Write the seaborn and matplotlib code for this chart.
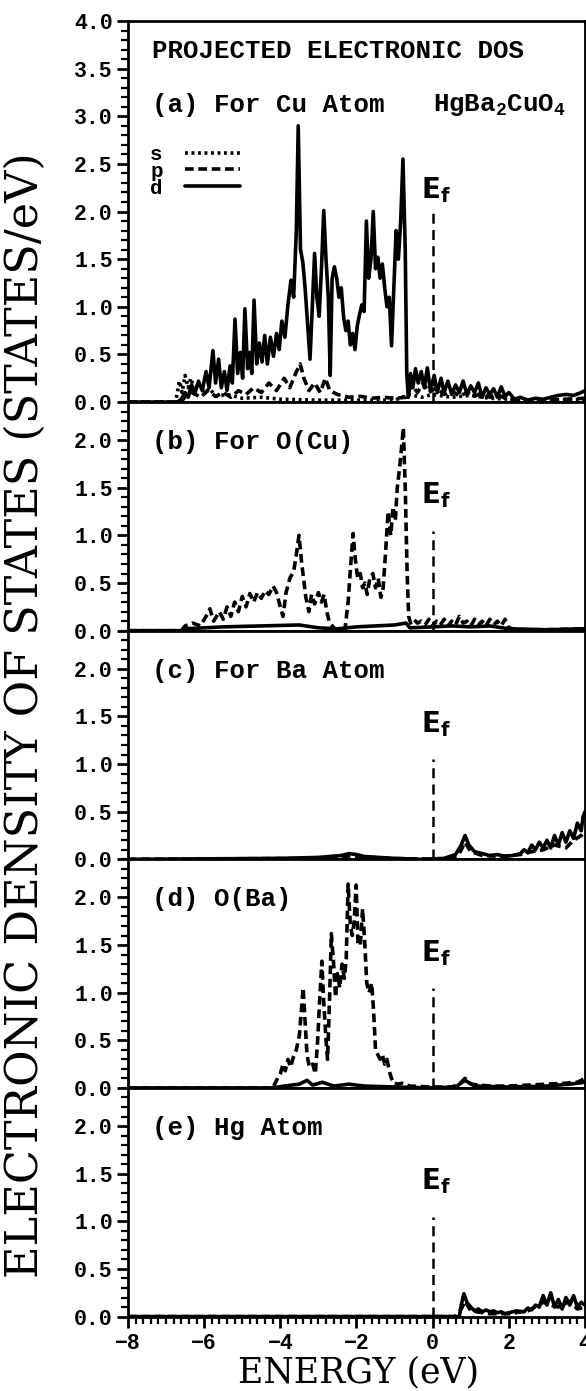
import matplotlib
matplotlib.use("Agg")
import matplotlib.pyplot as plt
import seaborn as sns
import pandas as pd
from matplotlib.ticker import MultipleLocator
from matplotlib.lines import Line2D

# projected DOS of HgBa2CuO4
# every curve is a list of (energy in eV, states/eV)

cu_d = [(-8.0, 0.0), (-6.7, 0.0), (-6.6, 0.03), (-6.5, 0.1), (-6.42, 0.05), (-6.33, 0.18),
        (-6.25, 0.08), (-6.15, 0.22), (-6.05, 0.12), (-5.95, 0.32), (-5.87, 0.15), (-5.77, 0.54),
        (-5.7, 0.2), (-5.62, 0.45), (-5.55, 0.15), (-5.47, 0.32), (-5.4, 0.12), (-5.32, 0.38),
        (-5.26, 0.2), (-5.19, 0.87), (-5.12, 0.3), (-5.05, 0.52), (-4.99, 0.25), (-4.93, 0.98),
        (-4.86, 0.35), (-4.8, 0.52), (-4.75, 0.3), (-4.69, 1.07), (-4.62, 0.4), (-4.55, 0.62),
        (-4.48, 0.42), (-4.41, 0.7), (-4.34, 0.4), (-4.26, 0.68), (-4.18, 0.48), (-4.1, 0.72),
        (-4.03, 0.55), (-3.96, 0.85), (-3.88, 0.68), (-3.8, 1.02), (-3.72, 1.28), (-3.65, 1.1),
        (-3.58, 1.8), (-3.53, 2.9), (-3.47, 1.6), (-3.41, 1.47), (-3.35, 1.2), (-3.28, 0.8),
        (-3.22, 0.45), (-3.16, 1.0), (-3.1, 1.56), (-3.04, 1.1), (-2.98, 0.9), (-2.92, 1.4),
        (-2.86, 2.01), (-2.8, 1.5), (-2.74, 1.1), (-2.69, 0.28), (-2.64, 1.3), (-2.58, 1.42),
        (-2.52, 1.3), (-2.46, 1.1), (-2.4, 1.2), (-2.34, 0.9), (-2.28, 0.75), (-2.22, 0.85),
        (-2.16, 0.6), (-2.1, 0.72), (-2.04, 0.55), (-1.98, 0.8), (-1.92, 0.92), (-1.86, 1.02),
        (-1.8, 0.95), (-1.74, 1.9), (-1.68, 1.3), (-1.62, 1.5), (-1.56, 2.0), (-1.5, 1.4),
        (-1.44, 1.52), (-1.38, 1.3), (-1.32, 1.45), (-1.26, 1.2), (-1.2, 1.0), (-1.14, 1.1),
        (-1.08, 0.59), (-1.02, 1.2), (-0.96, 1.8), (-0.9, 1.5), (-0.84, 1.9), (-0.78, 2.55),
        (-0.72, 1.6), (-0.68, 0.3), (-0.64, 0.05), (-0.58, 0.3), (-0.52, 0.15), (-0.45, 0.35),
        (-0.38, 0.2), (-0.3, 0.32), (-0.22, 0.15), (-0.14, 0.36), (-0.06, 0.12), (0.04, 0.28),
        (0.12, 0.1), (0.22, 0.25), (0.3, 0.1), (0.4, 0.22), (0.5, 0.08), (0.6, 0.18),
        (0.7, 0.1), (0.8, 0.22), (0.9, 0.08), (1.0, 0.17), (1.1, 0.1), (1.2, 0.2),
        (1.3, 0.05), (1.4, 0.15), (1.5, 0.08), (1.6, 0.14), (1.7, 0.05), (1.8, 0.16),
        (1.9, 0.06), (2.0, 0.1), (2.15, 0.03), (2.3, 0.05), (2.5, 0.02), (2.7, 0.04),
        (2.9, 0.03), (3.1, 0.05), (3.3, 0.07), (3.5, 0.08), (3.7, 0.07), (3.9, 0.1), (4.0, 0.12)]

cu_p = [(-8.0, 0.0), (-6.6, 0.0), (-6.5, 0.06), (-6.3, 0.1), (-6.1, 0.05), (-5.9, 0.12),
        (-5.7, 0.06), (-5.5, 0.1), (-5.3, 0.05), (-5.1, 0.12), (-4.9, 0.08), (-4.7, 0.15),
        (-4.5, 0.1), (-4.3, 0.2), (-4.1, 0.12), (-3.9, 0.25), (-3.75, 0.15), (-3.6, 0.3),
        (-3.48, 0.4), (-3.38, 0.25), (-3.25, 0.12), (-3.1, 0.2), (-2.95, 0.1), (-2.82, 0.25),
        (-2.7, 0.12), (-2.5, 0.08), (-2.2, 0.05), (-1.9, 0.06), (-1.6, 0.04), (-1.3, 0.05),
        (-1.0, 0.04), (-0.7, 0.05), (-0.55, 0.18), (-0.4, 0.1), (-0.25, 0.2), (-0.1, 0.1),
        (0.1, 0.15), (0.3, 0.08), (0.5, 0.12), (0.7, 0.06), (0.9, 0.1), (1.1, 0.06),
        (1.3, 0.1), (1.5, 0.05), (1.7, 0.08), (1.9, 0.04), (2.2, 0.02), (3.0, 0.02), (4.0, 0.04)]

cu_s = [(-8.0, 0.0), (-6.75, 0.0), (-6.65, 0.22), (-6.58, 0.1), (-6.5, 0.28), (-6.42, 0.15),
        (-6.35, 0.25), (-6.25, 0.12), (-6.15, 0.2), (-6.0, 0.1), (-5.85, 0.14), (-5.7, 0.06),
        (-5.4, 0.08), (-5.0, 0.04), (-4.5, 0.05), (-4.0, 0.03), (-3.0, 0.02), (-2.0, 0.02),
        (-1.0, 0.02), (-0.6, 0.08), (-0.3, 0.05), (0.0, 0.08), (0.5, 0.05), (1.0, 0.07),
        (1.5, 0.04), (2.0, 0.03), (3.0, 0.02), (4.0, 0.03)]

ocu_p = [(-8.0, 0.0), (-6.6, 0.0), (-6.5, 0.05), (-6.3, 0.08), (-6.1, 0.05), (-5.95, 0.15),
         (-5.85, 0.23), (-5.75, 0.1), (-5.6, 0.2), (-5.5, 0.12), (-5.4, 0.25), (-5.3, 0.15),
         (-5.2, 0.3), (-5.1, 0.2), (-5.0, 0.36), (-4.9, 0.25), (-4.8, 0.39), (-4.7, 0.3),
         (-4.6, 0.4), (-4.5, 0.34), (-4.4, 0.42), (-4.3, 0.38), (-4.19, 0.47), (-4.1, 0.4),
         (-4.0, 0.25), (-3.93, 0.15), (-3.85, 0.4), (-3.75, 0.55), (-3.65, 0.62), (-3.58, 0.8),
         (-3.51, 1.0), (-3.45, 0.75), (-3.4, 0.58), (-3.33, 0.35), (-3.25, 0.2), (-3.18, 0.38),
         (-3.1, 0.28), (-3.0, 0.4), (-2.92, 0.3), (-2.85, 0.38), (-2.78, 0.2), (-2.72, 0.1),
         (-2.6, 0.03), (-2.4, 0.0), (-2.3, 0.02), (-2.22, 0.3), (-2.15, 0.7), (-2.09, 1.02),
         (-2.03, 0.75), (-1.97, 0.55), (-1.9, 0.6), (-1.84, 0.45), (-1.78, 0.5), (-1.72, 0.38),
         (-1.65, 0.55), (-1.57, 0.6), (-1.5, 0.45), (-1.43, 0.55), (-1.36, 0.35), (-1.3, 0.45),
         (-1.24, 0.8), (-1.17, 1.25), (-1.1, 1.0), (-1.04, 1.3), (-0.98, 1.15), (-0.93, 1.5),
         (-0.87, 1.7), (-0.81, 1.95), (-0.77, 2.13), (-0.72, 1.5), (-0.67, 0.6), (-0.63, 0.15),
         (-0.58, 0.08), (-0.5, 0.12), (-0.4, 0.08), (-0.3, 0.1), (-0.2, 0.06), (-0.1, 0.12),
         (0.0, 0.05), (0.1, 0.1), (0.2, 0.06), (0.3, 0.12), (0.4, 0.05), (0.5, 0.1),
         (0.6, 0.06), (0.7, 0.15), (0.8, 0.08), (0.9, 0.1), (1.0, 0.05), (1.1, 0.12),
         (1.2, 0.06), (1.3, 0.1), (1.4, 0.05), (1.5, 0.12), (1.6, 0.06), (1.7, 0.1),
         (1.8, 0.05), (1.9, 0.12), (2.0, 0.03), (2.2, 0.01), (3.0, 0.01), (4.0, 0.02)]

ocu_d = [(-8.0, 0.0), (-6.6, 0.0), (-6.5, 0.02), (-5.5, 0.04), (-4.5, 0.05), (-3.5, 0.06),
         (-3.0, 0.03), (-2.5, 0.02), (-2.0, 0.04), (-1.5, 0.05), (-1.0, 0.06), (-0.7, 0.08),
         (-0.6, 0.03), (0.0, 0.04), (0.5, 0.05), (1.0, 0.04), (1.5, 0.05), (2.0, 0.02),
         (3.0, 0.01), (4.0, 0.02)]

ba_d = [(-8.0, 0.0), (-4.0, 0.01), (-3.0, 0.02), (-2.4, 0.04), (-2.2, 0.06), (-2.0, 0.05),
        (-1.8, 0.03), (-1.0, 0.01), (-0.3, 0.0), (0.3, 0.01), (0.6, 0.05), (0.75, 0.15),
        (0.85, 0.25), (0.95, 0.15), (1.1, 0.08), (1.3, 0.06), (1.5, 0.04), (1.7, 0.05),
        (1.9, 0.03), (2.1, 0.04), (2.3, 0.06), (2.4, 0.1), (2.5, 0.07), (2.6, 0.15),
        (2.7, 0.1), (2.8, 0.18), (2.9, 0.12), (3.0, 0.2), (3.1, 0.12), (3.2, 0.25),
        (3.3, 0.15), (3.4, 0.28), (3.5, 0.18), (3.6, 0.3), (3.7, 0.22), (3.8, 0.38),
        (3.9, 0.3), (3.95, 0.45), (4.0, 0.5)]

ba_p = [(-8.0, 0.0), (-3.0, 0.01), (-2.2, 0.03), (-1.5, 0.01), (0.5, 0.0), (0.7, 0.06),
        (0.85, 0.18), (1.0, 0.08), (1.3, 0.04), (1.8, 0.03), (2.3, 0.05), (2.6, 0.08),
        (2.9, 0.1), (3.2, 0.15), (3.5, 0.12), (3.7, 0.2), (3.9, 0.25), (4.0, 0.3)]

oba_p = [(-8.0, 0.0), (-4.2, 0.0), (-4.1, 0.08), (-4.0, 0.15), (-3.93, 0.25), (-3.87, 0.18),
         (-3.8, 0.3), (-3.73, 0.22), (-3.66, 0.32), (-3.58, 0.4), (-3.5, 0.55), (-3.45, 0.8),
         (-3.4, 1.05), (-3.35, 0.7), (-3.3, 0.35), (-3.24, 0.22), (-3.15, 0.25), (-3.08, 0.15),
         (-3.02, 0.5), (-2.97, 0.9), (-2.91, 1.33), (-2.86, 0.9), (-2.8, 0.5), (-2.76, 0.3),
         (-2.71, 0.9), (-2.66, 1.62), (-2.6, 1.3), (-2.55, 0.95), (-2.5, 1.2), (-2.44, 1.05),
         (-2.38, 1.3), (-2.32, 1.15), (-2.27, 1.35), (-2.22, 2.14), (-2.16, 1.7), (-2.11, 1.6),
         (-2.06, 1.75), (-2.01, 2.13), (-1.96, 1.5), (-1.9, 1.5), (-1.84, 1.88), (-1.78, 1.5),
         (-1.73, 1.1), (-1.67, 1.0), (-1.6, 1.1), (-1.55, 0.8), (-1.5, 0.4), (-1.44, 0.35),
         (-1.38, 0.3), (-1.32, 0.35), (-1.26, 0.25), (-1.2, 0.3), (-1.12, 0.15), (-1.04, 0.05),
         (-0.9, 0.04), (-0.8, 0.05), (-0.6, 0.02), (0.0, 0.01), (0.5, 0.01), (0.7, 0.04),
         (0.85, 0.1), (1.0, 0.04), (1.5, 0.02), (2.0, 0.02), (2.5, 0.03), (3.0, 0.04),
         (3.5, 0.05), (3.8, 0.06), (4.0, 0.1)]

oba_d = [(-8.0, 0.0), (-4.2, 0.0), (-3.9, 0.02), (-3.5, 0.04), (-3.3, 0.08), (-3.15, 0.03),
         (-2.9, 0.06), (-2.6, 0.02), (-2.2, 0.04), (-1.8, 0.02), (-1.0, 0.01), (0.0, 0.0),
         (0.6, 0.01), (0.85, 0.08), (1.1, 0.02), (2.0, 0.01), (3.0, 0.02), (3.6, 0.04), (4.0, 0.06)]

hg_d = [(-8.0, 0.0), (0.7, 0.0), (0.75, 0.12), (0.82, 0.24), (0.9, 0.15), (1.0, 0.1),
        (1.1, 0.06), (1.2, 0.08), (1.3, 0.05), (1.4, 0.07), (1.5, 0.05), (1.6, 0.06),
        (1.7, 0.04), (1.8, 0.05), (1.9, 0.03), (2.0, 0.04), (2.2, 0.06), (2.4, 0.05),
        (2.5, 0.09), (2.6, 0.07), (2.7, 0.12), (2.8, 0.1), (2.9, 0.22), (3.0, 0.12),
        (3.1, 0.25), (3.2, 0.1), (3.3, 0.18), (3.4, 0.08), (3.5, 0.2), (3.6, 0.12),
        (3.7, 0.22), (3.8, 0.1), (3.9, 0.15), (4.0, 0.12)]

hg_p = [(-8.0, 0.0), (0.6, 0.0), (0.75, 0.08), (0.85, 0.16), (1.0, 0.06), (1.5, 0.03),
        (2.0, 0.03), (2.5, 0.06), (2.9, 0.15), (3.1, 0.12), (3.3, 0.1), (3.6, 0.16),
        (3.8, 0.08), (4.0, 0.1)]

panel_labels = ["(a) For Cu Atom", "(b) For O(Cu)", "(c) For Ba Atom", "(d) O(Ba)", "(e) Hg Atom"]
y_tops = [4.0, 2.4, 2.4, 2.4, 2.4]
y_label_tops = [4.0, 2.0, 2.0, 2.0, 2.0]
fermi = 0.0

DOT = (0, (0.8, 1.0))
DASH = (0, (2.4, 1.3))
SOLID = "-"
LW = 2.6

panels = [
    [(cu_s, DOT), (cu_p, DASH), (cu_d, SOLID)],
    [(ocu_d, SOLID), (ocu_p, DASH)],
    [(ba_d, SOLID), (ba_p, DASH)],
    [(oba_d, SOLID), (oba_p, DASH)],
    [(hg_d, SOLID), (hg_p, DASH)],
]

sns.set_style("ticks")
plt.rcParams["font.family"] = ["Liberation Mono", "DejaVu Sans Mono"]
plt.rcParams["font.weight"] = "bold"
plt.rcParams["mathtext.fontset"] = "custom"
plt.rcParams["mathtext.rm"] = "Liberation Mono:bold"
plt.rcParams["mathtext.bf"] = "Liberation Mono:bold"
plt.rcParams["mathtext.it"] = "Liberation Mono:bold"
plt.rcParams["mathtext.sf"] = "DejaVu Sans"
for key in ["text.color", "axes.edgecolor", "axes.labelcolor", "xtick.color", "ytick.color"]:
    plt.rcParams[key] = "black"


def draw_curve(ax, pts, style):
    df = pd.DataFrame(pts, columns=["energy", "dos"])
    sns.lineplot(data=df, x="energy", y="dos", ax=ax, color="black", lw=LW,
                 linestyle=style, estimator=None, sort=False)


fig = plt.figure(figsize=(5.86, 13.91), dpi=100)
gs = fig.add_gridspec(5, 1, height_ratios=y_tops, hspace=0,
                      left=0.2184, right=0.9983, top=0.9849, bottom=0.0535)

for i, curves in enumerate(panels):
    ax = fig.add_subplot(gs[i])
    for pts, style in curves:
        draw_curve(ax, pts, style)

    ax.set_xlabel("")
    ax.set_ylabel("")
    ax.yaxis.set_minor_locator(MultipleLocator(0.1))
    ax.xaxis.set_major_locator(MultipleLocator(2))
    ax.xaxis.set_minor_locator(MultipleLocator(0.2))
    n_lab = int(round(y_label_tops[i] / 0.5))
    ax.set_yticks([0.5 * k for k in range(n_lab + 1)])
    ax.yaxis.set_major_formatter(plt.FormatStrFormatter("%.1f"))
    ax.set_xlim(-8, 4)
    ax.set_ylim(0, y_tops[i])
    for sp in ax.spines.values():
        sp.set_linewidth(2)
    ax.tick_params(axis="y", which="major", direction="out", length=8, width=2,
                   labelsize=15.5, pad=3)
    ax.tick_params(axis="y", which="minor", direction="out", length=5, width=1.6)
    if i < 4:
        ax.tick_params(axis="x", which="both", bottom=False, labelbottom=False)
    else:
        ax.tick_params(axis="x", which="major", direction="out", length=8, width=2,
                       labelsize=15.5, pad=4)
        ax.tick_params(axis="x", which="minor", direction="out", length=5, width=1.6)

    # Fermi level marker
    ef_top = 2.05 if i == 0 else 1.05
    ef_text = 2.22 if i == 0 else 1.42
    ax.vlines(fermi, 0, ef_top, colors="black", linestyles=(0, (4, 2.5)), lw=1.8)
    ax.text(fermi + 0.08, ef_text, r"$\mathsf{E_f}$", ha="center", va="center",
            fontsize=20, fontweight="normal")

    ax.text(-7.37, 3.12 if i == 0 else 1.98, panel_labels[i], ha="left", va="center",
            fontsize=18.5)
    if i == 0:
        ax.text(-7.37, 3.68, "PROJECTED ELECTRONIC DOS", ha="left", va="center", fontsize=18.5)
        ax.text(0.0, 3.12, r"HgBa$_2$CuO$_4$", ha="left", va="center", fontsize=18.5)
        handles = [Line2D([], [], color="black", lw=LW, linestyle=DOT),
                   Line2D([], [], color="black", lw=LW, linestyle=DASH),
                   Line2D([], [], color="black", lw=LW, linestyle=SOLID)]
        ax.legend(handles, ["s", "p", "d"], loc="upper left", markerfirst=False,
                  frameon=False, fontsize=15, handlelength=2.6, handletextpad=1.1,
                  labelspacing=-0.1, borderpad=0, borderaxespad=0,
                  bbox_to_anchor=(-7.42, 2.70), bbox_transform=ax.transData)

fig.text(0.043, 0.486, "ELECTRONIC DENSITY OF STATES (STATES/eV)", rotation=90,
         ha="center", va="center", fontsize=32, fontweight="normal", family="DejaVu Serif")
fig.text(0.612, 0.013, "ENERGY (eV)", ha="center", va="center", fontsize=25,
         fontweight="normal", family="DejaVu Serif")

fig.savefig("out.png", dpi=100)
